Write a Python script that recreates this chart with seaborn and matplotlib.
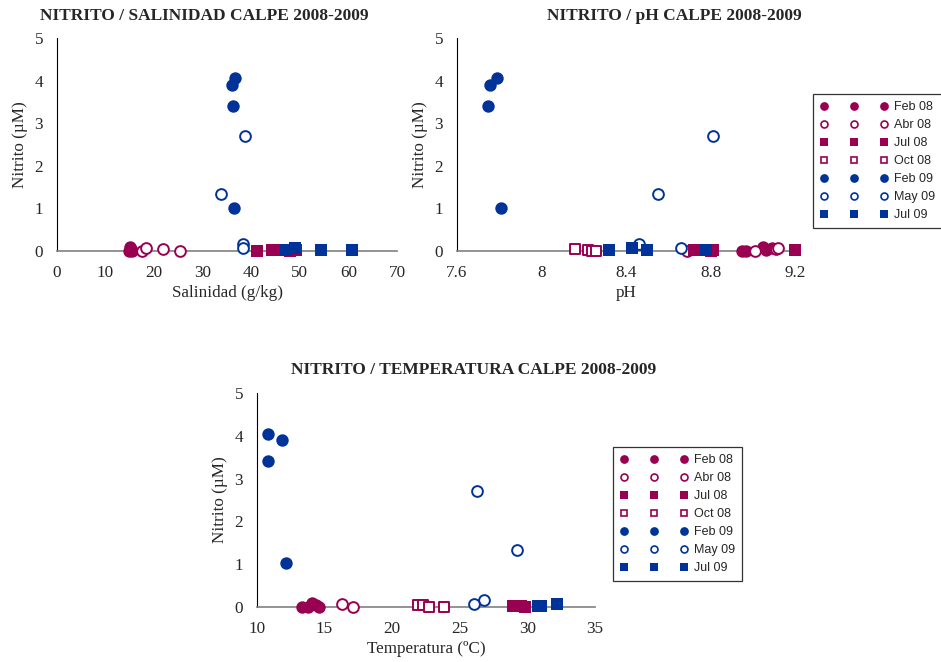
import pandas as pd
import numpy as np
import matplotlib
matplotlib.use("Agg")
import matplotlib.pyplot as plt
from matplotlib.lines import Line2D
import seaborn as sns

# series names / colours / markers
series = ["Feb 08", "Abr 08", "Jul 08", "Oct 08", "Feb 09", "May 09", "Jul 09"]
colors = ["#990052", "#990052", "#990052", "#990052", "#003399", "#003399", "#003399"]
markers = ["o", "o", "s", "s", "o", "o", "s"]
filled = [True, False, True, False, True, False, True]

# Salinidad panel (Oct 08 has no salinity data)
sal_feb08_x = [14.9, 15.1, 15.0, 15.3, 15.4]
sal_feb08_y = [0.0, 0.02, 0.1, 0.05, 0.0]
sal_abr08_x = [17.4, 18.3, 21.9, 25.3]
sal_abr08_y = [0.0, 0.07, 0.05, 0.0]
sal_jul08_x = [41.1, 44.2, 45.3, 48.0, 49.3]
sal_jul08_y = [0.0, 0.02, 0.03, 0.0, 0.02]
sal_oct08_x = []
sal_oct08_y = []
sal_feb09_x = [36.6, 36.1, 36.3, 36.5]
sal_feb09_y = [4.05, 3.9, 3.4, 1.02]
sal_may09_x = [38.7, 33.8, 38.2, 38.2]
sal_may09_y = [2.7, 1.33, 0.17, 0.08]
sal_jul09_x = [47.1, 49.0, 54.3, 60.8]
sal_jul09_y = [0.02, 0.08, 0.02, 0.02]

# pH panel
ph_feb08_x = [8.95, 8.97, 9.05, 9.065, 9.09]
ph_feb08_y = [0.0, 0.0, 0.1, 0.03, 0.07]
ph_abr08_x = [8.69, 9.01, 9.11, 9.12]
ph_abr08_y = [0.0, 0.0, 0.05, 0.07]
ph_jul08_x = [8.72, 8.73, 8.80, 8.81, 9.2]
ph_jul08_y = [0.03, 0.03, 0.0, 0.02, 0.03]
ph_oct08_x = [8.16, 8.22, 8.24, 8.26]
ph_oct08_y = [0.04, 0.03, 0.0, 0.0]
ph_feb09_x = [7.79, 7.756, 7.745, 7.808]
ph_feb09_y = [4.05, 3.9, 3.4, 1.02]
ph_may09_x = [8.81, 8.55, 8.46, 8.66]
ph_may09_y = [2.7, 1.33, 0.17, 0.08]
ph_jul09_x = [8.32, 8.43, 8.50, 8.78]
ph_jul09_y = [0.03, 0.08, 0.02, 0.02]

# Temperatura panel
tem_feb08_x = [13.3, 13.8, 14.1, 14.4, 14.6]
tem_feb08_y = [0.0, 0.0, 0.1, 0.05, 0.0]
tem_abr08_x = [16.3, 17.1]
tem_abr08_y = [0.07, 0.0]
tem_jul08_x = [28.9, 29.1, 29.5, 29.8]
tem_jul08_y = [0.03, 0.03, 0.02, 0.0]
tem_oct08_x = [21.9, 22.3, 22.75, 23.8]
tem_oct08_y = [0.04, 0.04, 0.0, 0.0]
tem_feb09_x = [10.84, 11.87, 10.84, 12.15]
tem_feb09_y = [4.05, 3.9, 3.4, 1.02]
tem_may09_x = [26.25, 29.2, 26.8, 26.07]
tem_may09_y = [2.7, 1.33, 0.17, 0.08]
tem_jul09_x = [30.8, 32.2, 30.9, 31.0]
tem_jul09_y = [0.02, 0.08, 0.03, 0.02]

panels = {
    "sal": [(sal_feb08_x, sal_feb08_y), (sal_abr08_x, sal_abr08_y), (sal_jul08_x, sal_jul08_y),
            (sal_oct08_x, sal_oct08_y), (sal_feb09_x, sal_feb09_y), (sal_may09_x, sal_may09_y),
            (sal_jul09_x, sal_jul09_y)],
    "ph": [(ph_feb08_x, ph_feb08_y), (ph_abr08_x, ph_abr08_y), (ph_jul08_x, ph_jul08_y),
           (ph_oct08_x, ph_oct08_y), (ph_feb09_x, ph_feb09_y), (ph_may09_x, ph_may09_y),
           (ph_jul09_x, ph_jul09_y)],
    "tem": [(tem_feb08_x, tem_feb08_y), (tem_abr08_x, tem_abr08_y), (tem_jul08_x, tem_jul08_y),
            (tem_oct08_x, tem_oct08_y), (tem_feb09_x, tem_feb09_y), (tem_may09_x, tem_may09_y),
            (tem_jul09_x, tem_jul09_y)],
}

#Building one long table
rows = []
for panel, data in panels.items():
    for name, (xs, ys) in zip(series, data):
        for xv, yv in zip(xs, ys):
            rows.append({"panel": panel, "serie": name, "x": xv, "nitrito": yv})
df = pd.DataFrame(rows)

sns.set_style("white")
plt.rcParams["font.family"] = ["Liberation Serif", "DejaVu Serif"]

fig = plt.figure(figsize=(9.41, 6.62), dpi=100)
W, H = 941, 662

def make_ax(x0, x1, y_top, y_bot):
    return fig.add_axes([x0 / W, 1 - y_bot / H, (x1 - x0) / W, (y_bot - y_top) / H])

ax_sal = make_ax(57, 397, 38, 251)
ax_ph = make_ax(457, 795, 38, 251)
ax_tem = make_ax(257, 595, 393, 607)

setup = [
    (ax_sal, "sal", (0, 70), np.arange(0, 71, 10), ["0", "10", "20", "30", "40", "50", "60", "70"], "Salinidad (g/kg)"),
    (ax_ph, "ph", (7.6, 9.2), [7.6, 8.0, 8.4, 8.8, 9.2], ["7.6", "8", "8.4", "8.8", "9.2"], "pH"),
    (ax_tem, "tem", (10, 35), np.arange(10, 36, 5), ["10", "15", "20", "25", "30", "35"], "Temperatura (ºC)"),
]

fs = 12.3
for ax, panel, xlim, xt, xtl, xlabel in setup:
    sub = df[df["panel"] == panel]
    for name, c, m, f in zip(series, colors, markers, filled):
        d = sub[sub["serie"] == name]
        if len(d) == 0:
            continue
        if f:
            sns.scatterplot(data=d, x="x", y="nitrito", ax=ax, marker=m, color=c,
                            edgecolor=c, linewidth=0, s=80, clip_on=False, legend=False, zorder=3)
        else:
            sns.scatterplot(data=d, x="x", y="nitrito", ax=ax, marker=m, color="white",
                            edgecolor=c, linewidth=1.4, s=60, clip_on=False, legend=False, zorder=3)
    ax.set_xlim(*xlim)
    ax.set_ylim(0, 5)
    ax.set_xticks(xt)
    ax.set_xticklabels(xtl)
    ax.set_yticks(range(6))
    ax.set_xlabel(xlabel, fontsize=fs, labelpad=3)
    ax.set_ylabel("Nitrito (µM)", fontsize=fs, labelpad=5)
    ax.tick_params(axis="x", direction="inout", length=4, width=0.8, color="#808080",
                   labelsize=fs, pad=8)
    ax.tick_params(axis="y", direction="out", length=4, width=0.8, color="black",
                   labelsize=fs, pad=6)
    for s in ["top", "right"]:
        ax.spines[s].set_visible(False)
    ax.spines["left"].set_color("black")
    ax.spines["left"].set_linewidth(0.8)
    ax.spines["bottom"].set_color("#808080")
    ax.spines["bottom"].set_linewidth(1.2)
    ax.set_facecolor("none")

#Titles
tfs = 12.5
fig.text(204 / W, 1 - 16 / H, "NITRITO / SALINIDAD CALPE 2008-2009", ha="center", va="center",
         fontsize=tfs, fontweight="bold")
fig.text(674 / W, 1 - 16 / H, "NITRITO / pH CALPE 2008-2009", ha="center", va="center",
         fontsize=tfs, fontweight="bold")
fig.text(474 / W, 1 - 370 / H, "NITRITO / TEMPERATURA CALPE 2008-2009", ha="center", va="center",
         fontsize=tfs, fontweight="bold")

#Legends with three markers each row
handles = []
for name, c, m, f in zip(series, colors, markers, filled):
    if f:
        ms = 6.3 if m == "o" else 5.6
    else:
        ms = 5.0 if m == "o" else 4.8
    handles.append(Line2D([], [], linestyle="none", marker=m, markersize=ms,
                          markerfacecolor=c if f else "white", markeredgecolor=c,
                          markeredgewidth=0 if f else 1.2, label=name))
for anchor in [(813 / W, 1 - 94 / H), (613 / W, 1 - 447 / H)]:
    leg = fig.legend(handles=handles, loc="upper left", bbox_to_anchor=anchor,
                     numpoints=3, handlelength=5.4, handletextpad=0.5,
                     labelspacing=0.48, borderpad=0.55, borderaxespad=0, fancybox=False,
                     frameon=True, prop={"family": "Liberation Sans", "size": 9})
    leg.get_frame().set_edgecolor("black")
    leg.get_frame().set_linewidth(0.9)

fig.savefig("out.png", dpi=100, facecolor="white")
